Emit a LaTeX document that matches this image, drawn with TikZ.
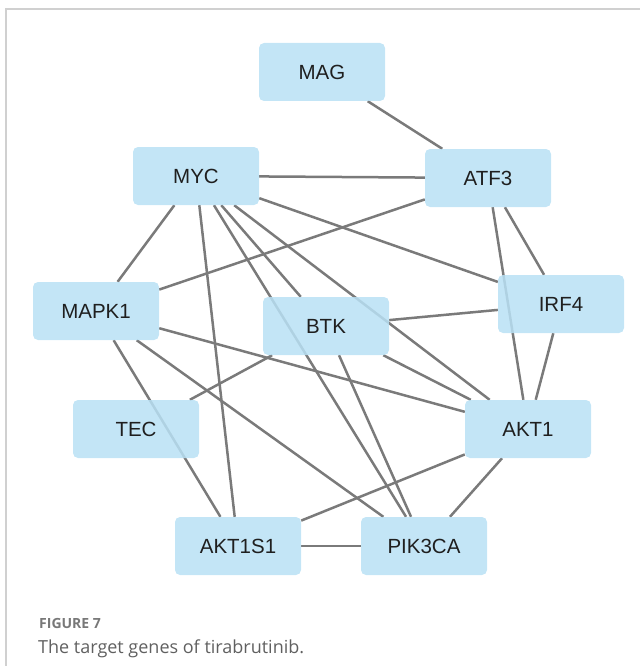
\documentclass[tikz,border=0pt]{standalone}
\usepackage{fontspec}
\setmainfont{Liberation Sans}
\newfontfamily\capfont{Open Sans}
\usetikzlibrary{backgrounds}
\definecolor{nodefill}{HTML}{B9E1F5}
\definecolor{edgecol}{HTML}{7A7A7A}
\definecolor{framecol}{HTML}{D0D0D0}
\definecolor{captioncol}{HTML}{606060}
\tikzset{
  gene/.style={rectangle, rounded corners=5pt, fill=nodefill, fill opacity=0.85, text opacity=1,
    minimum width=126pt, minimum height=58pt, inner sep=0pt,
    font=\fontsize{20.5}{23}\selectfont, text=black!88},
  link/.style={draw=edgecol, line width=2.5pt},
}
\begin{document}
\begin{tikzpicture}[x=1pt, y=-1pt]
\useasboundingbox (0,0) rectangle (640,666);
\draw[framecol, line width=1.5pt] (6,666) -- (6,9) -- (640,9);

\node[gene] (MAG) at (322,72) {MAG};
\node[gene] (MYC) at (196,176) {MYC};
\node[gene] (ATF3) at (488,178) {ATF3};
\node[gene] (MAPK1) at (96,311) {MAPK1};
\node[gene] (BTK) at (326,326) {BTK};
\node[gene] (IRF4) at (561,304) {IRF4};
\node[gene] (TEC) at (136,429) {TEC};
\node[gene] (AKT1) at (528,429) {AKT1};
\node[gene] (AKT1S1) at (238,546) {AKT1S1};
\node[gene] (PIK3CA) at (424,546) {PIK3CA};

\begin{scope}[on background layer]
\draw[link] (MAG) -- (ATF3);
\draw[link] (MYC) -- (ATF3);
\draw[link] (MYC) -- (IRF4);
\draw[link] (MYC) -- (MAPK1);
\draw[link] (MYC) -- (AKT1S1);
\draw[link] (MYC) -- (BTK);
\draw[link] (MYC) -- (PIK3CA);
\draw[link] (MYC) -- (AKT1);
\draw[link] (ATF3) -- (MAPK1);
\draw[link] (ATF3) -- (IRF4);
\draw[link] (ATF3) -- (AKT1);
\draw[link] (IRF4) -- (BTK);
\draw[link] (IRF4) -- (AKT1);
\draw[link] (MAPK1) -- (AKT1);
\draw[link] (MAPK1) -- (AKT1S1);
\draw[link] (MAPK1) -- (PIK3CA);
\draw[link] (BTK) -- (TEC);
\draw[link] (BTK) -- (AKT1);
\draw[link] (BTK) -- (PIK3CA);
\draw[link] (AKT1) -- (AKT1S1);
\draw[link] (AKT1) -- (PIK3CA);
\draw[link, line width=2.9pt] (AKT1S1) -- (PIK3CA);
\end{scope}

\node[anchor=base west, inner sep=0pt, text=captioncol!85, font=\capfont\bfseries\fontsize{14}{16}\selectfont] (fig) at (39,628) {FIGURE 7};
\node[anchor=base west, inner sep=0pt, text=captioncol, font=\capfont\fontsize{18}{21}\selectfont] (cap) at (38,653) {The target genes of tirabrutinib.};
\end{tikzpicture}
\end{document}
